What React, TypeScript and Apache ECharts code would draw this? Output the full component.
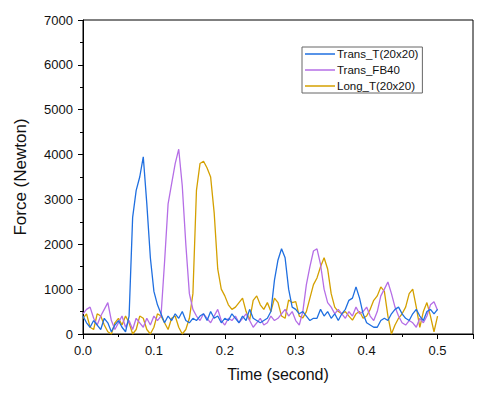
import React, { useEffect, useRef } from "react";
import * as echarts from "echarts";

const times: number[] = Array.from({ length: 101 }, (_, i) => +(i * 0.005).toFixed(3));

const transT: number[] = [
  400, 250, 150, 300, 200, 100, 350, 250, 50, 200,
  300, 150, 50, 400, 2600, 3200, 3500, 3950, 2900, 1700,
  950, 650, 450, 250, 400, 300, 450, 350, 500, 300,
  250, 350, 300, 400, 450, 300, 500, 350, 400, 250,
  350, 300, 450, 350, 250, 400, 300, 550, 350, 300,
  250, 300, 350, 500, 1200, 1650, 1900, 1700, 1000, 600,
  550, 450, 500, 400, 300, 350, 350, 550, 400, 500,
  350, 450, 300, 450, 550, 750, 800, 1050, 800, 450,
  250, 200, 150, 150, 300, 350, 300, 450, 550, 600,
  450, 350, 300, 450, 550, 400, 300, 500, 550, 450,
  550,
];

const transFB40: number[] = [
  450, 550, 600, 350, 200, 400, 550, 700, 300, 100,
  250, 400, 150, 300, 100, 350, 250, 150, 350, 200,
  400, 300, 400, 1600, 2900, 3350, 3800, 4120, 3300, 2000,
  900, 550, 400, 300, 450, 350, 250, 400, 550, 300,
  200, 350, 300, 400, 250, 350, 450, 300, 150, 250,
  350, 200, 250, 400, 300, 350, 450, 550, 400, 500,
  300, 200, 500, 1100, 1500, 1850, 1900, 1550, 1000, 700,
  600, 450, 550, 450, 350, 500, 400, 600, 450, 500,
  600, 400, 300, 500, 850, 1000, 1160, 900, 600, 400,
  250, 200, 300, 250, 150, 350, 250, 400, 650, 720,
  530,
];

const longT: number[] = [
  350, 450, 150, 100, 450, 400, 200, 50, 0, 250,
  350, 200, 400, 250, 0, 100, 400, 350, 100, 0,
  150, 450, 400, 250, 100, 350, 400, 150, 0, 100,
  350, 900, 3200, 3800, 3850, 3700, 3500, 2700, 1450, 1000,
  850, 650, 550, 600, 700, 800, 500, 310, 750, 850,
  650, 550, 700, 500, 800, 700, 400, 350, 760, 700,
  720, 400, 360, 500, 800, 1100, 1250, 1500, 1700, 1450,
  900, 600, 500, 450, 500, 400, 310, 450, 500, 350,
  400, 550, 750, 850, 1050, 950, 400, 0, 200, 350,
  450, 600, 900, 1000, 600, 150, 500, 700, 400, 50,
  400,
];

const seriesNames: string[] = ["Trans_T(20x20)", "Trans_FB40", "Long_T(20x20)"];
const colors: string[] = ["#1f6fe0", "#b56ee6", "#d4a000"];

const pair = (ys: number[]) => ys.map((y, i) => [times[i], y]);

export default function App() {
  const ref = useRef<HTMLDivElement>(null);
  useEffect(() => {
    document.body.style.margin = "0";
    const chart = echarts.init(ref.current!, undefined, { renderer: "svg" });
    const font = "Arial, 'Liberation Sans', sans-serif";
    chart.setOption({
      animation: false,
      backgroundColor: "#ffffff",
      textStyle: { fontFamily: font },
      grid: {
        left: 83,
        top: 20,
        right: 7,
        bottom: 59,
        show: true,
        borderColor: "#000",
        borderWidth: 1,
        backgroundColor: "transparent",
      },
      legend: {
        orient: "vertical",
        left: 302,
        top: 47,
        padding: [1, 4, 1, 3],
        borderColor: "#666",
        borderWidth: 1,
        itemGap: 4,
        itemWidth: 30,
        itemHeight: 1.5,
        icon: "rect",
        textStyle: {
          fontSize: 11.5,
          lineHeight: 12,
          color: "#111",
          fontFamily: font,
          padding: [0, 0, 0, -3],
        },
        data: seriesNames,
      },
      xAxis: {
        type: "value",
        min: 0,
        max: 0.55,
        interval: 0.1,
        name: "Time (second)",
        nameLocation: "middle",
        nameGap: 32,
        nameTextStyle: { fontSize: 16, color: "#111", fontFamily: font },
        axisLine: { lineStyle: { color: "#000", width: 1 } },
        axisTick: { show: true, length: 5, lineStyle: { color: "#000" } },
        minorTick: { show: true, splitNumber: 2, length: 3, lineStyle: { color: "#000" } },
        splitLine: { show: false },
        axisLabel: {
          fontSize: 13,
          color: "#111",
          margin: 10,
          formatter: (v: number) => (v > 0.52 ? "" : v.toFixed(1)),
        },
      },
      yAxis: {
        type: "value",
        min: 0,
        max: 7000,
        interval: 1000,
        name: "Force (Newton)",
        nameLocation: "middle",
        nameGap: 54,
        nameTextStyle: { fontSize: 17, color: "#111", fontFamily: font },
        axisLine: { show: true, lineStyle: { color: "#000", width: 1 } },
        axisTick: { show: true, length: 5, lineStyle: { color: "#000" } },
        minorTick: { show: true, splitNumber: 2, length: 3, lineStyle: { color: "#000" } },
        splitLine: { show: false },
        axisLabel: { fontSize: 13, color: "#111", margin: 10, formatter: (v: number) => String(v) },
      },
      series: [transT, transFB40, longT].map((ys, k) => ({
        name: seriesNames[k],
        type: "line",
        data: pair(ys),
        showSymbol: false,
        symbol: "none",
        color: colors[k],
        lineStyle: { color: colors[k], width: 1.3 },
        z: 3 - k,
      })),
    });
    return () => chart.dispose();
  }, []);
  return <div ref={ref} style={{ width: 480, height: 393 }} />;
}
